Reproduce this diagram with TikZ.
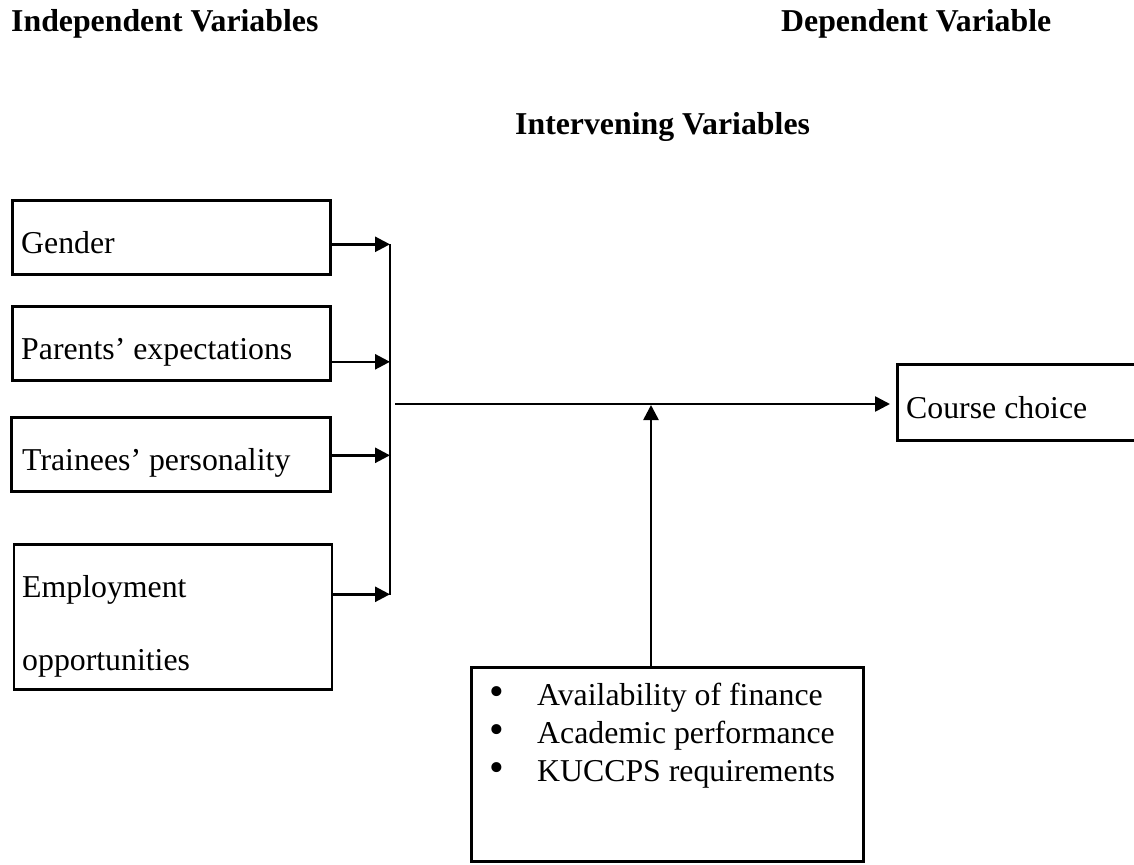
\documentclass[tikz,border=0pt]{standalone}
\usepackage{fontspec}
\setmainfont{Liberation Serif}
\usetikzlibrary{arrows.meta}
\begin{document}
\begin{tikzpicture}[x=1pt,y=-1pt,
  box/.style={draw, line width=2.6pt, anchor=north west, inner sep=0pt},
  lbl/.style={anchor=base west, inner sep=0pt, font=\fontsize{31.8}{38}\selectfont},
  blt/.style={anchor=center, inner sep=0pt, font=\fontsize{42}{48}\selectfont},
  ttl/.style={anchor=base west, inner sep=0pt, font=\fontsize{31.8}{38}\selectfont\bfseries},
  conn/.style={line width=2.6pt},
  arr/.style={conn, -{Triangle[length=15pt,width=15pt]}}]
\useasboundingbox (0,0) rectangle (1134,864);

% titles
\node[ttl] (tind) at (11,32) {Independent Variables};
\node[ttl] (tdep) at (781,32) {Dependent Variable};
\node[ttl] (tint) at (515,135) {Intervening Variables};

% left boxes
\node[box, minimum width=318pt, minimum height=74pt] (gbox) at (11,199) {};
\node[lbl] (gtxt) at (21,253) {Gender};
\node[box, minimum width=318pt, minimum height=74pt] (pbox) at (11,305) {};
\node[lbl] (ptxt) at (21,359) {Parents’ expectations};
\node[box, minimum width=319pt, minimum height=74pt] (tbox) at (10,416) {};
\node[lbl] (ttxt) at (22,470) {Trainees’ personality};
\node[box, minimum width=318pt, minimum height=145pt] (ebox) at (12.7,543) {};
\node[lbl] (etxt1) at (22,597) {Employment};
\node[lbl] (etxt2) at (22,670) {opportunities};

% dependent box
\node[box, minimum width=250pt, minimum height=76pt] (cbox) at (896,363) {};
\node[lbl] (ctxt) at (906,418) {Course choice};

% intervening box
\node[box, minimum width=392pt, minimum height=194pt] (ibox) at (470,666) {};
\node[blt] (b1) at (497,696) {•};
\node[lbl] (i1) at (537,705) {Availability of finance};
\node[blt] (b2) at (497,734) {•};
\node[lbl] (i2) at (537,743) {Academic performance};
\node[blt] (b3) at (497,772) {•};
\node[lbl] (i3) at (537,781) {KUCCPS requirements};

% collector bar
\coordinate (bartop) at (390,244);
\coordinate (barbot) at (390,595);
\draw[conn] (bartop) -- (barbot);

\coordinate (ga) at ([yshift=-7pt]gbox.east);
\coordinate (pa) at ([yshift=-18.5pt]pbox.east);
\coordinate (ta) at ([yshift=-1pt]tbox.east);
\coordinate (ea) at ([yshift=22.5pt]ebox.east);
\draw[arr] (ga) -- (bartop |- ga);
\draw[arr] (pa) -- (bartop |- pa);
\draw[arr] (ta) -- (bartop |- ta);
\draw[arr] (ea) -- (bartop |- ea);

% main line
\coordinate (ms) at (395,404);
\coordinate (up) at (651,405);
\coordinate (me) at ([xshift=-6pt]ms -| cbox.west);
\draw[arr] (ms) -- (me);
\draw[arr] (ibox.north -| up) -- (up);
\end{tikzpicture}
\end{document}
